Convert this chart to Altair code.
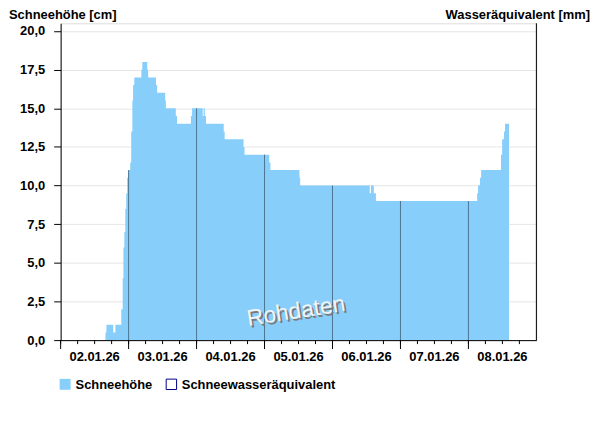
import altair as alt
import pandas as pd

# ---- data (snow depth, step series) ----
times = [
    "2026-01-02 15:50", "2026-01-02 16:10", "2026-01-02 18:35", "2026-01-02 19:20",
    "2026-01-02 21:25", "2026-01-02 21:55", "2026-01-02 22:10", "2026-01-02 22:30",
    "2026-01-02 22:50", "2026-01-02 23:10", "2026-01-02 23:30", "2026-01-03 00:00",
    "2026-01-03 00:35", "2026-01-03 00:55", "2026-01-03 01:20", "2026-01-03 01:35",
    "2026-01-03 02:00", "2026-01-03 04:30", "2026-01-03 04:50", "2026-01-03 06:35",
    "2026-01-03 06:55", "2026-01-03 09:40", "2026-01-03 10:05", "2026-01-03 12:55",
    "2026-01-03 13:10", "2026-01-03 16:40", "2026-01-03 17:05", "2026-01-03 22:00",
    "2026-01-03 22:25", "2026-01-04 02:10", "2026-01-04 02:30", "2026-01-04 02:55",
    "2026-01-04 03:20", "2026-01-04 09:35", "2026-01-04 09:55", "2026-01-04 16:35",
    "2026-01-04 16:55", "2026-01-05 01:40", "2026-01-05 02:05", "2026-01-05 12:20",
    "2026-01-05 12:35", "2026-01-06 13:10", "2026-01-06 13:35", "2026-01-06 14:35",
    "2026-01-06 15:20", "2026-01-08 03:05", "2026-01-08 03:25", "2026-01-08 04:05",
    "2026-01-08 04:30", "2026-01-08 11:30", "2026-01-08 11:55", "2026-01-08 12:35",
    "2026-01-08 12:55", "2026-01-08 14:20",
]
depth = [
    0.5, 1.0, 0.5, 1.0,
    2.0, 4.0, 6.0, 7.0,
    8.5, 9.5, 10.5, 11.0,
    11.5, 13.5, 15.5, 16.5,
    17.0, 17.5, 18.0, 17.5,
    17.0, 16.5, 16.0, 15.5,
    15.0, 14.5, 14.0, 14.5,
    15.0, 14.5, 15.0, 14.5,
    14.0, 13.5, 13.0, 12.5,
    12.0, 11.5, 11.0, 10.5,
    10.0, 9.5, 10.0, 9.5,
    9.0, 9.5, 10.0, 10.5,
    11.0, 12.0, 13.0, 13.5,
    14.0, 14.0,
]
midnights = ["2026-01-03 00:00", "2026-01-04 00:00", "2026-01-05 00:00",
             "2026-01-06 00:00", "2026-01-07 00:00", "2026-01-08 00:00"]
midnight_depth = [11.0, 15.0, 12.0, 10.0, 9.0, 9.0]
day_starts = ["2026-01-02 00:00", "2026-01-03 00:00", "2026-01-04 00:00", "2026-01-05 00:00",
              "2026-01-06 00:00", "2026-01-07 00:00", "2026-01-08 00:00"]
label_times = ["2026-01-02 12:00", "2026-01-03 12:00", "2026-01-04 12:00", "2026-01-05 12:00",
               "2026-01-06 12:00", "2026-01-07 12:00", "2026-01-08 12:00"]
x_labels = ["02.01.26", "03.01.26", "04.01.26", "05.01.26", "06.01.26", "07.01.26", "08.01.26"]
y_ticks = [0, 2.5, 5, 7.5, 10, 12.5, 15, 17.5, 20]
legend_labels = ["Schneehöhe", "Schneewasseräquivalent"]
left_title = "Schneehöhe [cm]"
right_title = "Wasseräquivalent [mm]"
watermark = "Rohdaten"

W, H = 479, 319
FONT = "Liberation Sans"
BLUE = "#87cefa"

df = pd.DataFrame({"t": times, "v": depth})
mid_df = pd.DataFrame({"t": midnights, "v": midnight_depth})
day_df = pd.DataFrame({"t": day_starts})
lab_df = pd.DataFrame({"t": label_times, "label": x_labels})
minor_df = pd.DataFrame({"t": pd.date_range("2026-01-02 00:00", "2026-01-08 18:00", freq="6h")
                         .strftime("%Y-%m-%d %H:%M")})
one = pd.DataFrame({"a": [0]})

x_scale = alt.Scale(domain=[alt.DateTime(year=2026, month=1, date=2, hours=0),
                            alt.DateTime(year=2026, month=1, date=9, hours=0)])
y_scale = alt.Scale(domain=[0, 20.5], nice=False)

x_axis = alt.Axis(title=None, grid=False, ticks=False, labels=False, domainColor="black")
y_axis = alt.Axis(
    values=y_ticks, title=None, tickSize=7, tickColor="black", domainColor="black",
    labelPadding=9, labelFont=FONT, labelFontSize=13, labelFontWeight="bold",
    labelColor="black", gridColor="#e6e6e6", labelOverlap=False,
    labelExpr="replace(format(datum.value, '.1f'), '.', ',')",
)

X = alt.X("t:T", scale=x_scale, axis=x_axis)

area = alt.Chart(df).mark_area(interpolate="step-after", color=BLUE, opacity=1).encode(
    x=X,
    y=alt.Y("v:Q", scale=y_scale, axis=y_axis),
)

mid_lines = alt.Chart(mid_df).mark_rule(color="#4d7591", strokeWidth=1).encode(
    x=X,
    y=alt.Y("v:Q", scale=y_scale, axis=y_axis),
    y2=alt.datum(0),
)

minor_ticks = alt.Chart(minor_df).mark_rule(color="black", strokeWidth=1).encode(
    x=X, y=alt.value(H), y2=alt.value(H + 4),
)
major_ticks = alt.Chart(day_df).mark_rule(color="black", strokeWidth=1).encode(
    x=X, y=alt.value(H), y2=alt.value(H + 9),
)
x_label_text = alt.Chart(lab_df).mark_text(
    font=FONT, fontSize=13, fontWeight="bold", align="center", baseline="top", color="black"
).encode(x=X, y=alt.value(H + 11), text="label:N")

right_axis = alt.Chart(one).mark_rule(color="black", strokeWidth=1).encode(
    x=alt.value(W), y=alt.value(0), y2=alt.value(H)
)

title_l = alt.Chart(one).mark_text(
    font=FONT, fontSize=13, fontWeight="bold", align="left", baseline="top", color="black"
).encode(x=alt.value(-52), y=alt.value(-14), text=alt.value(left_title))

title_r = alt.Chart(one).mark_text(
    font=FONT, fontSize=13, fontWeight="bold", align="right", baseline="top", color="black"
).encode(x=alt.value(533), y=alt.value(-14), text=alt.value(right_title))

wm_shadow = alt.Chart(one).mark_text(
    font=FONT, fontSize=23, align="center", baseline="middle", color="#7a7a7a", angle=351
).encode(x=alt.value(239), y=alt.value(292), text=alt.value(watermark))
wm_text = alt.Chart(one).mark_text(
    font=FONT, fontSize=23, align="center", baseline="middle", color="#f4f4f4", angle=351
).encode(x=alt.value(237), y=alt.value(290), text=alt.value(watermark))

leg_sq1 = alt.Chart(one).mark_square(filled=True, color=BLUE, size=121, opacity=1).encode(
    x=alt.value(4.5), y=alt.value(363.5))
leg_t1 = alt.Chart(one).mark_text(
    font=FONT, fontSize=13, fontWeight="bold", align="left", baseline="middle", color="black"
).encode(x=alt.value(15), y=alt.value(364), text=alt.value(legend_labels[0]))
leg_sq2 = alt.Chart(one).mark_square(filled=False, stroke="#000080", strokeWidth=1, size=110,
                                     opacity=1, fill="white").encode(
    x=alt.value(111.5), y=alt.value(363.5))
leg_t2 = alt.Chart(one).mark_text(
    font=FONT, fontSize=13, fontWeight="bold", align="left", baseline="middle", color="black"
).encode(x=alt.value(122), y=alt.value(364), text=alt.value(legend_labels[1]))

chart = alt.layer(
    area, mid_lines, minor_ticks, major_ticks, x_label_text, right_axis, wm_shadow, wm_text,
    title_l, title_r, leg_sq1, leg_t1, leg_sq2, leg_t2,
).properties(
    width=W, height=H,
    autosize=alt.AutoSizeParams(type="none"),
    padding={"left": 53, "top": 14, "right": 56, "bottom": 75},
).configure_view(stroke=None).configure(background="white")

chart.save("out.html", embed_options={"renderer": "svg", "actions": False})
